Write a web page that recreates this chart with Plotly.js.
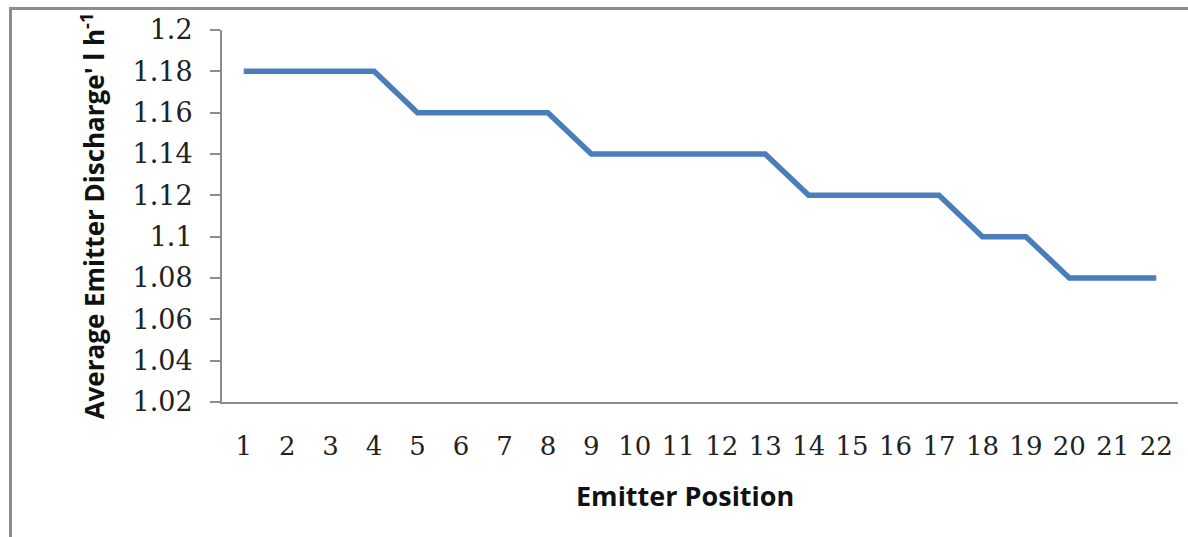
<!DOCTYPE html>
<html>
<head>
<meta charset="utf-8">
<script src="https://cdn.plot.ly/plotly-3.0.1.min.js"></script>
<style>
html,body{margin:0;padding:0;background:#fff;}
#wrap{position:relative;width:1188px;height:537px;}
#chart{width:1188px;height:537px;}
#frame{position:absolute;left:9px;top:7px;width:1179px;height:530px;border-top:3px solid #8c8c8c;border-left:3px solid #8c8c8c;pointer-events:none;}
</style>
</head>
<body>
<div id="wrap">
<div id="chart"></div>
<div id="frame"></div>
</div>
<script>
const positions = [1,2,3,4,5,6,7,8,9,10,11,12,13,14,15,16,17,18,19,20,21,22];
const discharge = [1.18,1.18,1.18,1.18,1.16,1.16,1.16,1.16,1.14,1.14,1.14,1.14,1.14,1.12,1.12,1.12,1.12,1.10,1.10,1.08,1.08,1.08];
const yTicks = [1.02,1.04,1.06,1.08,1.1,1.12,1.14,1.16,1.18,1.2];
const yTickText = ['1.02','1.04','1.06','1.08','1.1','1.12','1.14','1.16','1.18','1.2'];
const xTitle = 'Emitter Position';
const yTitle = "Average Emitter Discharge' l h<sup>-1</sup>";

const trace = {
  x: positions.map(String),
  y: discharge,
  type: 'scatter',
  mode: 'lines',
  line: {color: '#4a7ebb', width: 5.5},
  hoverinfo: 'x+y'
};

const layout = {
  width: 1188, height: 537,
  margin: {l: 222, r: 10, t: 30, b: 135},
  paper_bgcolor: '#fff', plot_bgcolor: '#fff',
  showlegend: false,
  xaxis: {
    type: 'category',
    range: [-0.5, 21.5],
    showline: true, linecolor: '#8c8c8c', linewidth: 2,
    showgrid: false, zeroline: false,
    ticks: '',
    ticklabelstandoff: 20,
    tickfont: {family: 'DejaVu Serif, Liberation Serif, serif', size: 26, color: '#222'}
  },
  yaxis: {
    range: [1.02, 1.2],
    tickvals: yTicks, ticktext: yTickText,
    showline: true, linecolor: '#8c8c8c', linewidth: 2,
    showgrid: false, zeroline: false,
    ticks: 'outside', ticklen: 10, tickcolor: '#8c8c8c', tickwidth: 2,
    ticklabelstandoff: 12,
    tickfont: {family: 'DejaVu Serif, Liberation Serif, serif', size: 27, color: '#222'},
    title: {text: '<b>' + yTitle + '</b>', font: {family: 'Open Sans, DejaVu Sans, sans-serif', size: 26, color: '#111'}, standoff: 20}
  },
  annotations: [{
    text: '<b>' + xTitle + '</b>',
    xref: 'paper', yref: 'paper',
    x: 0.4843, y: -0.25,
    xanchor: 'center', yanchor: 'middle',
    showarrow: false,
    font: {family: 'Open Sans, DejaVu Sans, sans-serif', size: 27, color: '#111'}
  }]
};

Plotly.newPlot('chart', [trace], layout, {displayModeBar: false, staticPlot: true});
</script>
</body>
</html>
